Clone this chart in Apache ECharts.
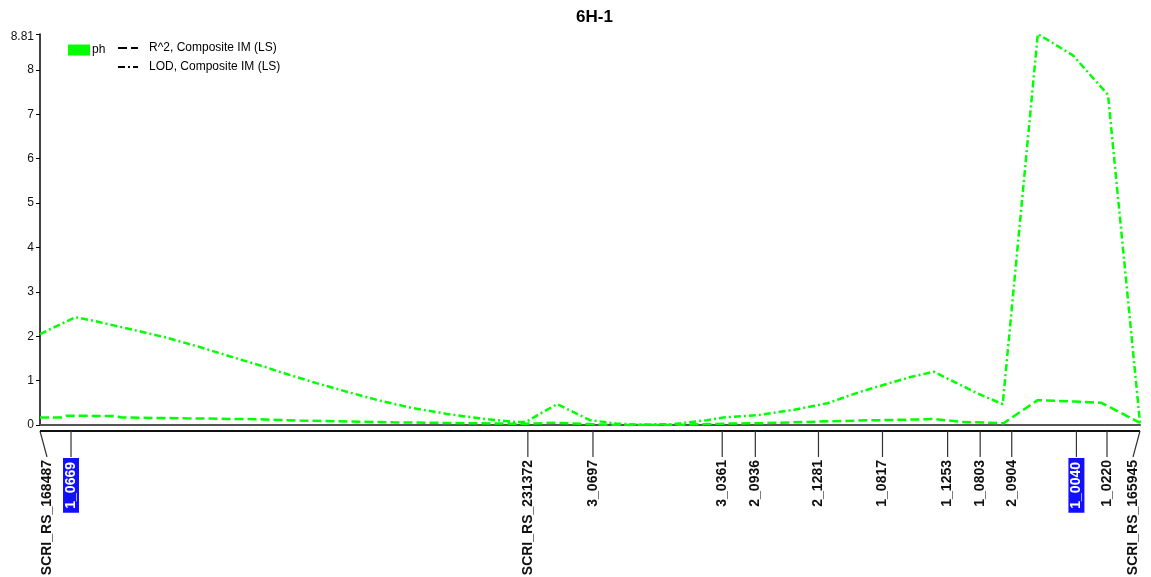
<!DOCTYPE html>
<html>
<head>
<meta charset="utf-8">
<script src="https://cdn.jsdelivr.net/npm/echarts@6/dist/echarts.min.js"></script>
<style>
html,body{margin:0;padding:0;background:#fff;}
#chart{width:1151px;height:577px;}
</style>
</head>
<body>
<div id="chart"></div>
<script>
// ---- data ----
var titleText = '6H-1';
var markerNames = ['SCRI_RS_168487','1_0669','SCRI_RS_231372','3_0697','3_0361','2_0936','2_1281','1_0817','1_1253','1_0803','2_0904','1_0040','1_0220','SCRI_RS_165945'];
var markerPos = [0, 2.82, 44.35, 50.27, 62.02, 65.03, 70.77, 76.59, 82.51, 85.47, 88.34, 94.22, 97.00, 100];
var highlightedMarkers = ['1_0669','1_0040'];

var lodPos = [0, 3.25, 5.37, 8.38, 11.48, 14.48, 17.49, 20.58, 21.77, 24.77, 27.87, 30.87, 33.88, 36.98, 39.98, 42.99, 44.17, 47.0, 50.0, 52.46, 54.55, 57.56, 60.66, 62.11, 65.2, 68.49, 71.58, 74.59, 77.6, 79.14, 81.24, 83.7, 85.25, 87.52, 90.71, 93.9, 97.09, 100];
var lodVal = [2.05, 2.43, 2.32, 2.15, 1.97, 1.76, 1.53, 1.30, 1.20, 0.97, 0.75, 0.55, 0.38, 0.25, 0.15, 0.07, 0.07, 0.47, 0.11, 0.03, 0.01, 0.02, 0.11, 0.17, 0.22, 0.34, 0.49, 0.75, 0.97, 1.08, 1.20, 0.90, 0.71, 0.47, 8.81, 8.33, 7.44, 0.05];

var r2Pos = [0, 1.9, 2.37, 6.92, 7.4, 13.3, 19.7, 23.6, 32.1, 43.0, 44.2, 47.0, 50.0, 52.5, 57.6, 62.1, 65.5, 74.3, 80.7, 81.2, 83.7, 87.6, 90.7, 94.0, 96.5, 100];
var r2Val = [0.17, 0.17, 0.21, 0.20, 0.17, 0.15, 0.13, 0.10, 0.06, 0.03, 0.03, 0.05, 0.02, 0.0, 0.0, 0.03, 0.04, 0.10, 0.13, 0.14, 0.07, 0.04, 0.56, 0.53, 0.50, 0.05];

var yTicks = [0, 1, 2, 3, 4, 5, 6, 7, 8, 8.81];
var yMax = 8.81;

var legendPh = 'ph';
var nameR2 = 'R^2, Composite IM (LS)';
var nameLod = 'LOD, Composite IM (LS)';

// ---- build ----
function pairs(xs, ys){ var o=[]; for(var i=0;i<xs.length;i++){ o.push([xs[i], ys[i]]); } return o; }
var markerData = markerNames.map(function(n,i){ return [markerPos[i], 0, n, highlightedMarkers.indexOf(n) >= 0 ? 1 : 0, i]; });

var FONT = '"Liberation Sans", Arial, sans-serif';
var GREEN = '#00ff00';
var dashR2 = [9, 4];
var dashLod = [7, 3, 2, 3];

var chart = echarts.init(document.getElementById('chart'), null, {renderer:'canvas'});
var option = {
  animation: false,
  backgroundColor: '#ffffff',
  title: {
    text: titleText, left: 571, top: 4,
    textStyle: {fontFamily: FONT, fontSize: 17, fontWeight: 'bold', color: '#000'}
  },
  legend: [
    {
      left: 68, top: 44, padding: 0, orient: 'horizontal', selectedMode: false,
      itemWidth: 22, itemHeight: 11, itemGap: 6,
      textStyle: {fontFamily: FONT, fontSize: 12, color: '#000', padding: [0,0,0,-3]},
      data: [{name: legendPh, icon: 'rect', itemStyle: {color: GREEN}}]
    },
    {
      left: 117, top: 42, padding: 0, orient: 'vertical', selectedMode: false,
      itemWidth: 20, itemHeight: 10, itemGap: 7,
      textStyle: {fontFamily: FONT, fontSize: 12, color: '#000', padding: [0,0,0,6]},
      data: [
        {name: nameR2, itemStyle: {opacity: 0, color: '#000'}, lineStyle: {color: '#000', type: dashR2, width: 2, opacity: 1}},
        {name: nameLod, itemStyle: {opacity: 0, color: '#000'}, lineStyle: {color: '#000', type: dashLod, width: 2, opacity: 1}}
      ]
    }
  ],
  grid: {left: 40, right: 11, top: 34, bottom: 152, containLabel: false},
  xAxis: [{
    type: 'value', min: 0, max: 100,
    axisLine: {show: true, onZero: false, lineStyle: {color: '#555', width: 2}},
    axisTick: {show: false}, axisLabel: {show: false}, splitLine: {show: false}
  }],
  yAxis: [{
    type: 'value', min: 0, max: yMax, interval: 1,
    axisLine: {show: true, lineStyle: {color: '#000', width: 1.5}},
    axisTick: {show: true, length: 4, customValues: yTicks, lineStyle: {color: '#000'}},
    axisLabel: {customValues: yTicks, fontFamily: FONT, fontSize: 12, color: '#111', margin: 6,
      formatter: function(v){ return v === yMax ? '{top|' + v + '}' : String(v); },
      rich: {top: {fontFamily: FONT, fontSize: 12, color: '#111', padding: [5, 0, 0, 0]}}},
    splitLine: {show: false}
  }],
  series: [
    {
      name: legendPh, type: 'line', data: [], symbol: 'none',
      itemStyle: {color: GREEN}, lineStyle: {color: GREEN}
    },
    {
      name: nameR2, type: 'line', data: pairs(r2Pos, r2Val), symbol: 'none', smooth: false,
      itemStyle: {color: '#000'},
      lineStyle: {color: GREEN, width: 2.5, type: dashR2}, z: 3
    },
    {
      name: nameLod, type: 'line', data: pairs(lodPos, lodVal), symbol: 'none', smooth: false,
      itemStyle: {color: '#000'},
      lineStyle: {color: GREEN, width: 2.5, type: dashLod}, z: 3
    },
    {
      name: 'markers', type: 'custom', clip: false, silent: true, z: 4,
      data: markerData,
      renderItem: function(params, api){
        var p = api.coord([api.value(0), 0]);
        var x = p[0], y0 = p[1] + 6;
        var idx = api.value(4);
        var dx = 0;
        if (idx === 0) dx = 7;
        if (idx === markerNames.length - 1) dx = -7;
        var name = markerNames[idx];
        var hl = api.value(3) === 1;
        var children = [{
          type: 'line',
          shape: {x1: x, y1: y0, x2: x + dx, y2: y0 + 26},
          style: {stroke: '#333', lineWidth: 1.2}
        }, {
          type: 'text',
          x: x + dx, y: y0 + (hl ? 27 : 29), rotation: Math.PI / 2,
          style: {
            text: name, align: 'right', verticalAlign: 'middle',
            font: 'bold 14px ' + FONT,
            fill: hl ? '#ffffff' : '#111',
            backgroundColor: hl ? '#1010ff' : null,
            padding: hl ? [1, 4, 1, 4] : 0
          }
        }];
        if (idx === 0) {
          children.push({
            type: 'line',
            shape: {x1: api.coord([0,0])[0], y1: y0, x2: api.coord([100,0])[0], y2: y0},
            style: {stroke: '#111', lineWidth: 2}
          });
        }
        return {type: 'group', children: children};
      }
    }
  ]
};
chart.setOption(option);
</script>
</body>
</html>
